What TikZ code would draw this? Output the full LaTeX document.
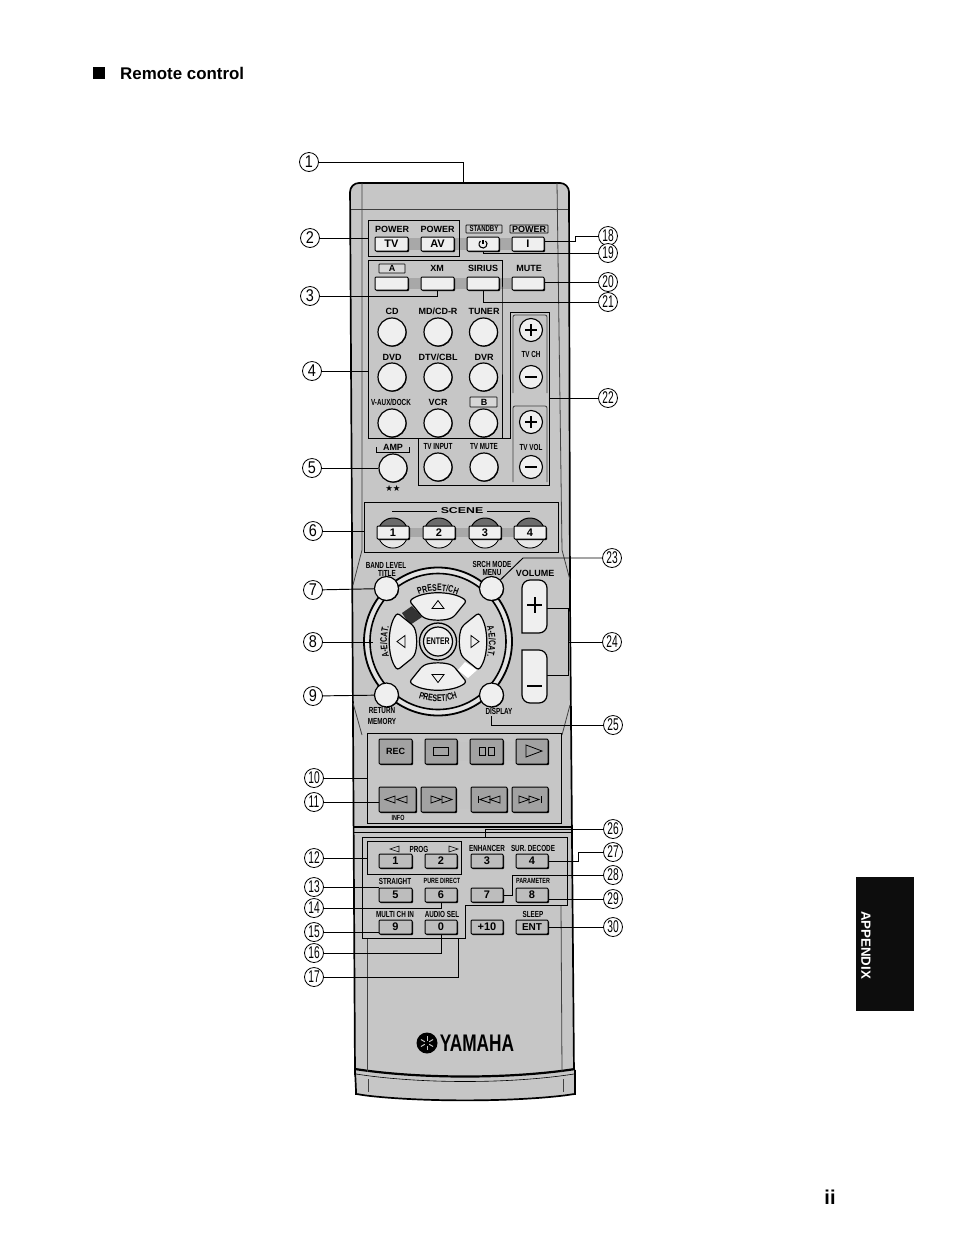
\documentclass[tikz,border=0pt]{standalone}
\usepackage{fontspec}
\usepackage{graphicx}
\setmainfont{Liberation Sans}
\newfontfamily\narf[FakeStretch=0.72]{Liberation Sans}
\newfontfamily\numf[FakeStretch=0.85]{Liberation Sans}
\newfontfamily\numn[FakeStretch=0.6]{Liberation Sans}
\newfontfamily\widef[FakeStretch=1.45]{Liberation Sans}
\newfontfamily\starf{DejaVu Sans}
\usetikzlibrary{shadows,decorations.text,calc}
\definecolor{body}{HTML}{C6C6C6}
\definecolor{keyw}{HTML}{EFEFEF}
\definecolor{keyg}{HTML}{BDBDBD}
\definecolor{keyd}{HTML}{A2A2A2}
\definecolor{band}{HTML}{A8A8A8}
\newcount\lc
\newcommand\lab[4][]{\global\advance\lc by 1 \node[lbl,#1] (lab\the\lc) at (#2,#3) {#4};}
\newcommand\nlab[4][]{\global\advance\lc by 1 \node[lbl,font=\narf\bfseries\fontsize{8.8}{9}\selectfont,#1] (lab\the\lc) at (#2,#3) {#4};}
% name, x1, y1, x2, y2, style, text
\newcommand\btn[7]{\node[#6,minimum width={#4-#2},minimum height={#5-#3}] (#1) at ({(#2+#4)/2},{(#3+#5)/2}) {#7};}
\newcommand\rb[4][14]{\node[rbtn,minimum size={2*#1}] (#2) at (#3,#4) {};}
\newcommand\tv[3]{\draw[icon] (#1,#2) -- ++({#3*10},-3.5) -- ++(0,7) -- cycle;}
\begin{document}
\begin{tikzpicture}[x=1pt,y=-1pt,
  lbl/.style={inner sep=0,font=\bfseries\fontsize{9}{9}\selectfont},
  frm/.style={draw=black,line width=.95},
  lead/.style={draw=black,line width=.95},
  edge/.style={draw=black!75,line width=.8},
  numc/.style={circle,draw=black,line width=.8,fill=white,minimum size=19,inner sep=0,font=\numf\fontsize{17}{17}\selectfont},
  numd/.style={numc,font=\numn\fontsize{17}{17}\selectfont},
  keyb/.style={rectangle,draw=black,line width=1,rounded corners=1,inner sep=0,
     general shadow={shadow xshift=1pt,shadow yshift=-1pt,fill=black},font=\bfseries\fontsize{11}{11}\selectfont},
  wkey/.style={keyb,fill=keyw},
  gkey/.style={keyb,fill=keyg},
  dkey/.style={keyb,fill=keyd},
  rbtn/.style={circle,draw=black,line width=1.2,fill=keyw,inner sep=0,
     general shadow={shadow xshift=.6pt,shadow yshift=-.6pt,fill=black}},
  icon/.style={draw=black,line width=.8,fill=none},
  tag/.style={draw=black,line width=.7,rounded corners=.5}]
\useasboundingbox (0,0) rectangle (954,1235);
\fill[white] (0,0) rectangle (954,1235);

% page furniture
\node[fill=black,minimum width=12,minimum height=12,inner sep=0] (sq) at (98.5,73) {};
\node[anchor=base west,inner sep=0,font=\bfseries\fontsize{16.9}{17}\selectfont] (title) at (120,79) {Remote control};
\node[fill=black!95,minimum width=58,minimum height=134,inner sep=0] (tab) at (885,944) {};
\node[rotate=-90,text=white,inner sep=0,font=\bfseries\fontsize{13.3}{13}\selectfont] (tabt) at (866,945) {APPENDIX};
\node[anchor=base,inner sep=0,font=\bfseries\fontsize{20}{20}\selectfont] (pg) at (830,1204) {ii};

% body
\draw[fill=body,draw=black,line width=1.7,rounded corners=9]
  (355,1075) -- (353,720) -- (350,183) -- (569,183) -- (570,600) -- (574,1075);
\draw[fill=body,draw=black,line width=1.7,rounded corners=4]
  (355,1070) -- (356,1090) .. controls (356,1094) and (357,1094) .. (362,1095) .. controls (420,1102) and (510,1102) .. (568,1095) .. controls (574,1094) and (575,1094) .. (575,1090) -- (575,1070);
\draw[draw=black,line width=2.2] (355,1069) .. controls (420,1079) and (510,1079) .. (575,1069);
\draw[draw=black,line width=.6] (356,1074) .. controls (420,1084) and (510,1084) .. (574,1074);
\draw[edge] (351,209) -- (568,209);
\draw[edge] (362,183) -- (362,550) -- (353,585);
\draw[edge] (557,183) -- (562,550) -- (570,580);
\draw[edge] (353,703) -- (362,735);
\draw[edge] (570,705) -- (562,735);
\draw[edge] (367,938) -- (367,1072);
\draw[edge] (561,905) -- (562,1072);
\draw[edge] (368,1079) -- (368,1092);
\draw[edge] (563,1079) -- (563,1092);
\draw[draw=black,line width=1.6] (353,827) -- (573,827);
\draw[draw=black,line width=1] (353,832) -- (573,832);

% bands behind keys
\fill[band] (375,238) rectangle (544,250);
\fill[band] (375,278) rectangle (544,289);
\fill[keyg!90!white] (379,742) rectangle (548,761);
\fill[keyg!90!white] (379,790) rectangle (548,809);
\fill[band] (377,528) rectangle (546,537);

% frames
\draw[frm] (368,220) rectangle (459,256);
\draw[frm] (368,260) -- (502,260) -- (502,312) -- (502,438) -- (368,438) -- cycle;
\draw[frm] (510,312) -- (549,312) -- (549,485) -- (418,485) -- (418,438) -- (510,438) -- cycle;
\draw[edge,rounded corners=2] (513,393) -- (513,315) -- (547,315) -- (547,393);
\draw[edge,rounded corners=2] (513,482) -- (513,406) -- (547,406) -- (547,482);
\draw[frm] (364,502) rectangle (558,552);
\draw[frm] (367,733) rectangle (561,823);
\draw[frm] (367,841) rectangle (461,874);
\draw[frm] (362,837) -- (567,837) -- (567,905) -- (465,905) -- (465,938) -- (362,938) -- cycle;
\draw[frm] (547,608) -- (568,608) -- (568,675) -- (547,675);

% top keys
\lab{392}{229}{POWER} \lab{437.5}{229}{POWER}
\draw[tag] (466,225) rectangle (502,233);
\nlab[font=\narf\bfseries\fontsize{8.4}{8}\selectfont]{484}{229}{STANDBY}
\draw[tag] (510,225) rectangle (548,233);
\lab{529}{229}{POWER}
\btn{bTV}{375}{237}{408}{251}{wkey}{TV}
\btn{bAV}{421}{237}{454}{251}{wkey}{AV}
\btn{bST}{467}{237}{499}{251}{wkey}{}
\draw[draw=black,line width=1.1] (483,240) -- (483,244);
\draw[draw=black,line width=1.1] (483,244) ++(-50:4) arc (-50:230:4);
\btn{bI}{512}{237}{544}{251}{wkey}{I}

\draw[tag,fill=keyg!60!white] (379,264) rectangle (405,273);
\lab{392}{268.5}{A} \lab{437}{268.5}{XM} \lab{483}{268.5}{SIRIUS} \lab{529}{268.5}{MUTE}
\btn{bA}{375}{277}{408}{290}{wkey}{}
\btn{bXM}{421}{277}{454}{290}{wkey}{}
\btn{bSI}{467}{277}{499}{290}{wkey}{}
\btn{bMU}{512}{277}{544}{290}{wkey}{}

% input selectors
\lab{392}{311}{CD} \lab{438}{311}{MD/CD-R} \lab{484}{311}{TUNER}
\rb{bCD}{392}{332} \rb{bMD}{438}{332} \rb{bTU}{483.5}{332}
\lab{392}{357}{DVD} \lab{438}{357}{DTV/CBL} \lab{484}{357}{DVR}
\rb{bDV}{392}{377} \rb{bDT}{438}{377} \rb{bDR}{483.5}{377}
\nlab{391}{402}{V-AUX/DOCK} \lab{438}{402}{VCR}
\draw[tag,fill=keyg!60!white] (470,397) rectangle (497,407);
\lab{484}{402}{B}
\rb{bVA}{392}{423} \rb{bVC}{438}{423} \rb{bB}{483.5}{423}

\node[draw=black,line width=1.1,circle,inner sep=0,fill=keyw,minimum size=23] (chp) at (531,330) {};
\node[draw=black,line width=1.1,circle,inner sep=0,fill=keyw,minimum size=23] (chm) at (531,377) {};
\node[draw=black,line width=1.1,circle,inner sep=0,fill=keyw,minimum size=23] (vop) at (531,422) {};
\node[draw=black,line width=1.1,circle,inner sep=0,fill=keyw,minimum size=23] (vom) at (531,467) {};
\foreach \c in {chp,vop}{\draw[draw=black,line width=1.5] (\c.center) ++(-6,0) -- ++(12,0) (\c.center) ++(0,-6) -- ++(0,12);}
\foreach \c in {chm,vom}{\draw[draw=black,line width=1.5] (\c.center) ++(-6,0) -- ++(12,0);}
\nlab{531}{354}{TV CH} \nlab{531}{447}{TV VOL}
\nlab{438}{447}{TV INPUT} \nlab{484}{447}{TV MUTE}
\rb{bTI}{438}{467} \rb{bTM}{484}{467}
\lab{393}{447}{AMP}
\draw[draw=black,line width=.8] (376,447) -- (376,452) -- (409,452) -- (409,447);
\rb{bAM}{393}{468}
\node[inner sep=0,font=\starf\fontsize{8.5}{9}\selectfont] (stars) at (393,488) {★★};

% scene
\node[inner sep=0,font=\widef\bfseries\fontsize{8.5}{9}\selectfont] (scn) at (462,511) {SCENE};
\draw[draw=black,line width=.7] (392,511) -- (437,511) (487,511) -- (530,511);
\foreach \x in {393,439,485,530}{
  \fill[black!58] (\x-15,533) arc (180:360:15) -- cycle;
  \draw[draw=black,line width=1] (\x,533) circle (15);
  \fill[keyw!80!body] (\x-14.4,533) arc (180:0:14.4) -- cycle;
}
\btn{s1}{377}{526}{409}{539}{wkey}{1}
\btn{s2}{423}{526}{455}{539}{wkey}{2}
\btn{s3}{469}{526}{501}{539}{wkey}{3}
\btn{s4}{514}{526}{546}{539}{wkey}{4}

% navigation
\coordinate (nc) at (438,641.5);
\draw[draw=black,line width=1.8,fill=keyw!70!body] (nc) circle (74);
\draw[draw=black,line width=1.6,fill=body!90!white] (nc) circle (68);
\fill[black!80] (402,613) -- (412,606) -- (422,617) -- (410,625) -- cycle;
\fill[white] (465,662) -- (477,670) -- (468,678) -- (458,670) -- cycle;
\foreach \a in {0,90,180,270}{
\begin{scope}[shift={(nc)},rotate=\a]
  \draw[fill=keyw,draw=black,line width=1.2,rounded corners=2.5] (-28.5,-40.5) .. controls (-15,-51) and (15,-51) .. (28.5,-40.5) -- (16,-25) .. controls (8,-20.5) and (-8,-20.5) .. (-16,-25) -- cycle;
  \draw[icon] (-6,-33) -- (6,-33) -- (0,-41) -- cycle;
\end{scope}}
\path[decorate,decoration={text along path,text align=center,text={|\narf\bfseries\fontsize{9.6}{10}\selectfont|PRESET/CH}}] (nc) ++(-125:50.5) arc (-125:-55:50.5);
\path[decorate,decoration={text along path,text align=center,text={|\narf\bfseries\fontsize{9.6}{10}\selectfont|PRESET/CH}}] (nc) ++(125:60) arc (125:55:60);
\path[decorate,decoration={text along path,text align=center,text={|\narf\bfseries\fontsize{9.6}{10}\selectfont|A-E/CAT.}}] (nc) ++(140:51) arc (140:220:51);
\path[decorate,decoration={text along path,text align=center,text={|\narf\bfseries\fontsize{9.6}{10}\selectfont|A-E/CAT.}}] (nc) ++(-40:51) arc (-40:40:51);
\node[circle,draw=black,line width=1.3,fill=body!70!white,minimum size=37,inner sep=0] (ent0) at (nc) {};
\node[circle,draw=black,line width=1.2,fill=keyw,minimum size=29,inner sep=0,font=\narf\bfseries\fontsize{9.6}{10}\selectfont] (enter) at (nc) {ENTER};
\rb[12]{bTitle}{386.5}{588.5} \rb[12]{bMenu}{491.5}{588.5} \rb[12]{bRet}{386.5}{695} \rb[12]{bDisp}{491.5}{695}
\nlab{386}{565}{BAND LEVEL} \nlab{387}{573}{TITLE} \nlab{492}{564}{SRCH MODE} \nlab{492}{573}{MENU}
\nlab{382}{711}{RETURN} \nlab{382}{721}{MEMORY} \nlab{499}{711}{DISPLAY}
\lab{535}{573}{VOLUME}
\draw[fill=keyw,draw=black,line width=1.2,rounded corners=8] (522,633) -- (522,580) -- (547,580) -- (547,633) [sharp corners] -- cycle;
\draw[fill=keyw,draw=black,line width=1.2,rounded corners=8] (522,650) -- (522,703) -- (547,703) -- (547,650) [sharp corners] -- cycle;
\draw[draw=black,line width=2] (534.5,597) -- (534.5,613) (527,605) -- (542,605);
\draw[draw=black,line width=2] (527,686) -- (542,686);

% transport
\btn{tREC}{379}{739}{412}{764}{dkey}{\fontsize{9}{9}\selectfont REC}
\btn{tST}{425}{739}{457}{764}{dkey}{}
\btn{tPA}{470}{739}{503}{764}{dkey}{}
\btn{tPL}{516}{739}{548}{764}{dkey}{}
\draw[icon] (433.5,747) rectangle (448.5,755);
\draw[icon] (479,747) rectangle (485,755) (488,747) rectangle (494,755);
\draw[icon] (526,745) -- (542,751) -- (526,757) -- cycle;
\btn{tRW}{379}{787}{416}{812}{dkey}{}
\btn{tFF}{421}{787}{456}{812}{dkey}{}
\btn{tPV}{471}{787}{507}{812}{dkey}{}
\btn{tNX}{512}{787}{548}{812}{dkey}{}
\tv{385}{799.5}{1} \tv{397}{799.5}{1}
\tv{441}{799.5}{-1} \tv{452}{799.5}{-1}
\tv{480}{799.5}{1} \tv{490}{799.5}{1} \draw[draw=black,line width=1] (478,796) -- (478,803);
\tv{529}{799.5}{-1} \tv{539}{799.5}{-1} \draw[draw=black,line width=1] (541,796) -- (541,803);
\nlab[font=\narf\bfseries\fontsize{7.5}{8}\selectfont]{398}{818}{INFO}

% numeric keys
\nlab{419}{849}{PROG}
\draw[icon,line width=.6] (399,846) -- (390,849) -- (399,852) -- cycle;
\draw[icon,line width=.6] (449,846) -- (458,849) -- (449,852) -- cycle;
\nlab{487}{848}{ENHANCER} \nlab{533}{848}{SUR. DECODE}
\btn{k1}{379}{854}{412}{868}{gkey}{1}
\btn{k2}{425}{854}{457}{868}{gkey}{2}
\btn{k3}{471}{854}{503}{868}{gkey}{3}
\btn{k4}{516}{854}{548}{868}{gkey}{4}
\nlab{395}{881}{STRAIGHT} \nlab[font=\narf\bfseries\fontsize{7.5}{8}\selectfont]{442}{881}{PURE DIRECT} \nlab[font=\narf\bfseries\fontsize{7.5}{8}\selectfont]{533}{881}{PARAMETER}
\btn{k5}{379}{888}{412}{902}{gkey}{5}
\btn{k6}{425}{888}{457}{902}{gkey}{6}
\btn{k7}{471}{888}{503}{902}{gkey}{7}
\btn{k8}{516}{888}{548}{902}{gkey}{8}
\nlab{395}{914}{MULTI CH IN} \nlab{442}{914}{AUDIO SEL} \nlab{533}{914}{SLEEP}
\btn{k9}{379}{920}{412}{934}{gkey}{9}
\btn{k0}{425}{920}{457}{934}{gkey}{0}
\btn{k10}{471}{920}{503}{934}{gkey}{+10}
\btn{kE}{516}{920}{548}{934}{gkey}{\fontsize{10}{10}\selectfont ENT}

% logo
\node[circle,fill=black,minimum size=21,inner sep=0] (emb) at (427,1043) {};
\foreach \a in {30,90,...,330}{\draw[draw=body,line width=1] (emb.center) ++(\a:2.5) -- ++(\a:4.5);}
\node[inner sep=0,font=\narf\bfseries\fontsize{24}{24}\selectfont] (yam) at (477,1043) {YAMAHA};

% numbers, left
\node[numc] (n1) at (309,162) {1};
\node[numc] (n2) at (310,238) {2};
\node[numc] (n3) at (310,296) {3};
\node[numc] (n4) at (312,371) {4};
\node[numc] (n5) at (312,468) {5};
\node[numc] (n6) at (313,531) {6};
\node[numc] (n7) at (313,590) {7};
\node[numc] (n8) at (313,642) {8};
\node[numc] (n9) at (313,696) {9};
\node[numd] (n10) at (314,778) {10};
\node[numd] (n11) at (314,802) {11};
\node[numd] (n12) at (314,858) {12};
\node[numd] (n13) at (314,887) {13};
\node[numd] (n14) at (314,908) {14};
\node[numd] (n15) at (314,932) {15};
\node[numd] (n16) at (314,953) {16};
\node[numd] (n17) at (314,977) {17};
% numbers, right
\node[numd] (n18) at (608,236) {18};
\node[numd] (n19) at (608,253) {19};
\node[numd] (n20) at (608,282) {20};
\node[numd] (n21) at (608,302) {21};
\node[numd] (n22) at (608,398) {22};
\node[numd] (n23) at (612,558) {23};
\node[numd] (n24) at (612,642) {24};
\node[numd] (n25) at (613,725) {25};
\node[numd] (n26) at (613,829) {26};
\node[numd] (n27) at (613,852) {27};
\node[numd] (n28) at (613,875) {28};
\node[numd] (n29) at (613,899) {29};
\node[numd] (n30) at (613,927) {30};

% frame anchor points
\coordinate (top) at (463,183);
\coordinate (f2) at (368,238);
\coordinate (f4) at (368,371);
\coordinate (f6) at (364,531);
\coordinate (f10) at (367,778);
\coordinate (f12) at (367,858);
\coordinate (f17) at (458,938);
\coordinate (f22) at (549,398);
\coordinate (f24) at (568,642);
\coordinate (f26) at (485,837);
\coordinate (a23) at (523,558);
\coordinate (a25) at (491,725);
\coordinate (b25) at (491,716);
\coordinate (a18) at (575,236);
\coordinate (b18) at (575,241);
\coordinate (a27) at (578,852);
\coordinate (b27) at (578,861);
\coordinate (a28) at (512,875);
\coordinate (b28) at (512,895);
\coordinate (e8) at (373,642);

% leaders, left
\draw[lead] (n1) -| (top);
\draw[lead] (n2) -- (f2);
\draw[lead] (n3) -| (bXM.south);
\draw[lead] (n4) -- (f4);
\draw[lead] (n5) -- (bAM);
\draw[lead] (n6) -- (f6);
\draw[lead] (n7) -- (bTitle);
\draw[lead] (n8) -- (e8);
\draw[lead] (n9) -- (bRet);
\draw[lead] (n10) -- (f10);
\draw[lead] (n11) -- (tRW.west |- n11);
\draw[lead] (n12) -- (f12);
\draw[lead] (n13) -- (k5.west |- n13);
\draw[lead] (n14) -| (k6.south);
\draw[lead] (n15) -- (k9.west |- n15);
\draw[lead] (n16) -| (k0.south);
\draw[lead] (n17) -| (f17);
% leaders, right
\draw[lead] (n18) -- (a18) -- (b18) -- (bI.east |- b18);
\draw[lead] (n19) -| (bST.south);
\draw[lead] (n20) -- (bMU.east |- n20);
\draw[lead] (n21) -| (bSI.south);
\draw[lead] (n22) -- (f22);
\draw[lead] (n23) -- (a23) -- (bMenu);
\draw[lead] (n24) -- (f24);
\draw[lead] (n25) -- (a25) -- (b25);
\draw[lead] (n26) -| (f26);
\draw[lead] (n27) -- (a27) -- (b27) -- (k4.east |- b27);
\draw[lead] (n28) -- (a28) -- (b28) -- (k7.east |- b28);
\draw[lead] (n29) -- (k8.east |- n29);
\draw[lead] (n30) -- (kE.east |- n30);
\end{tikzpicture}
\end{document}
